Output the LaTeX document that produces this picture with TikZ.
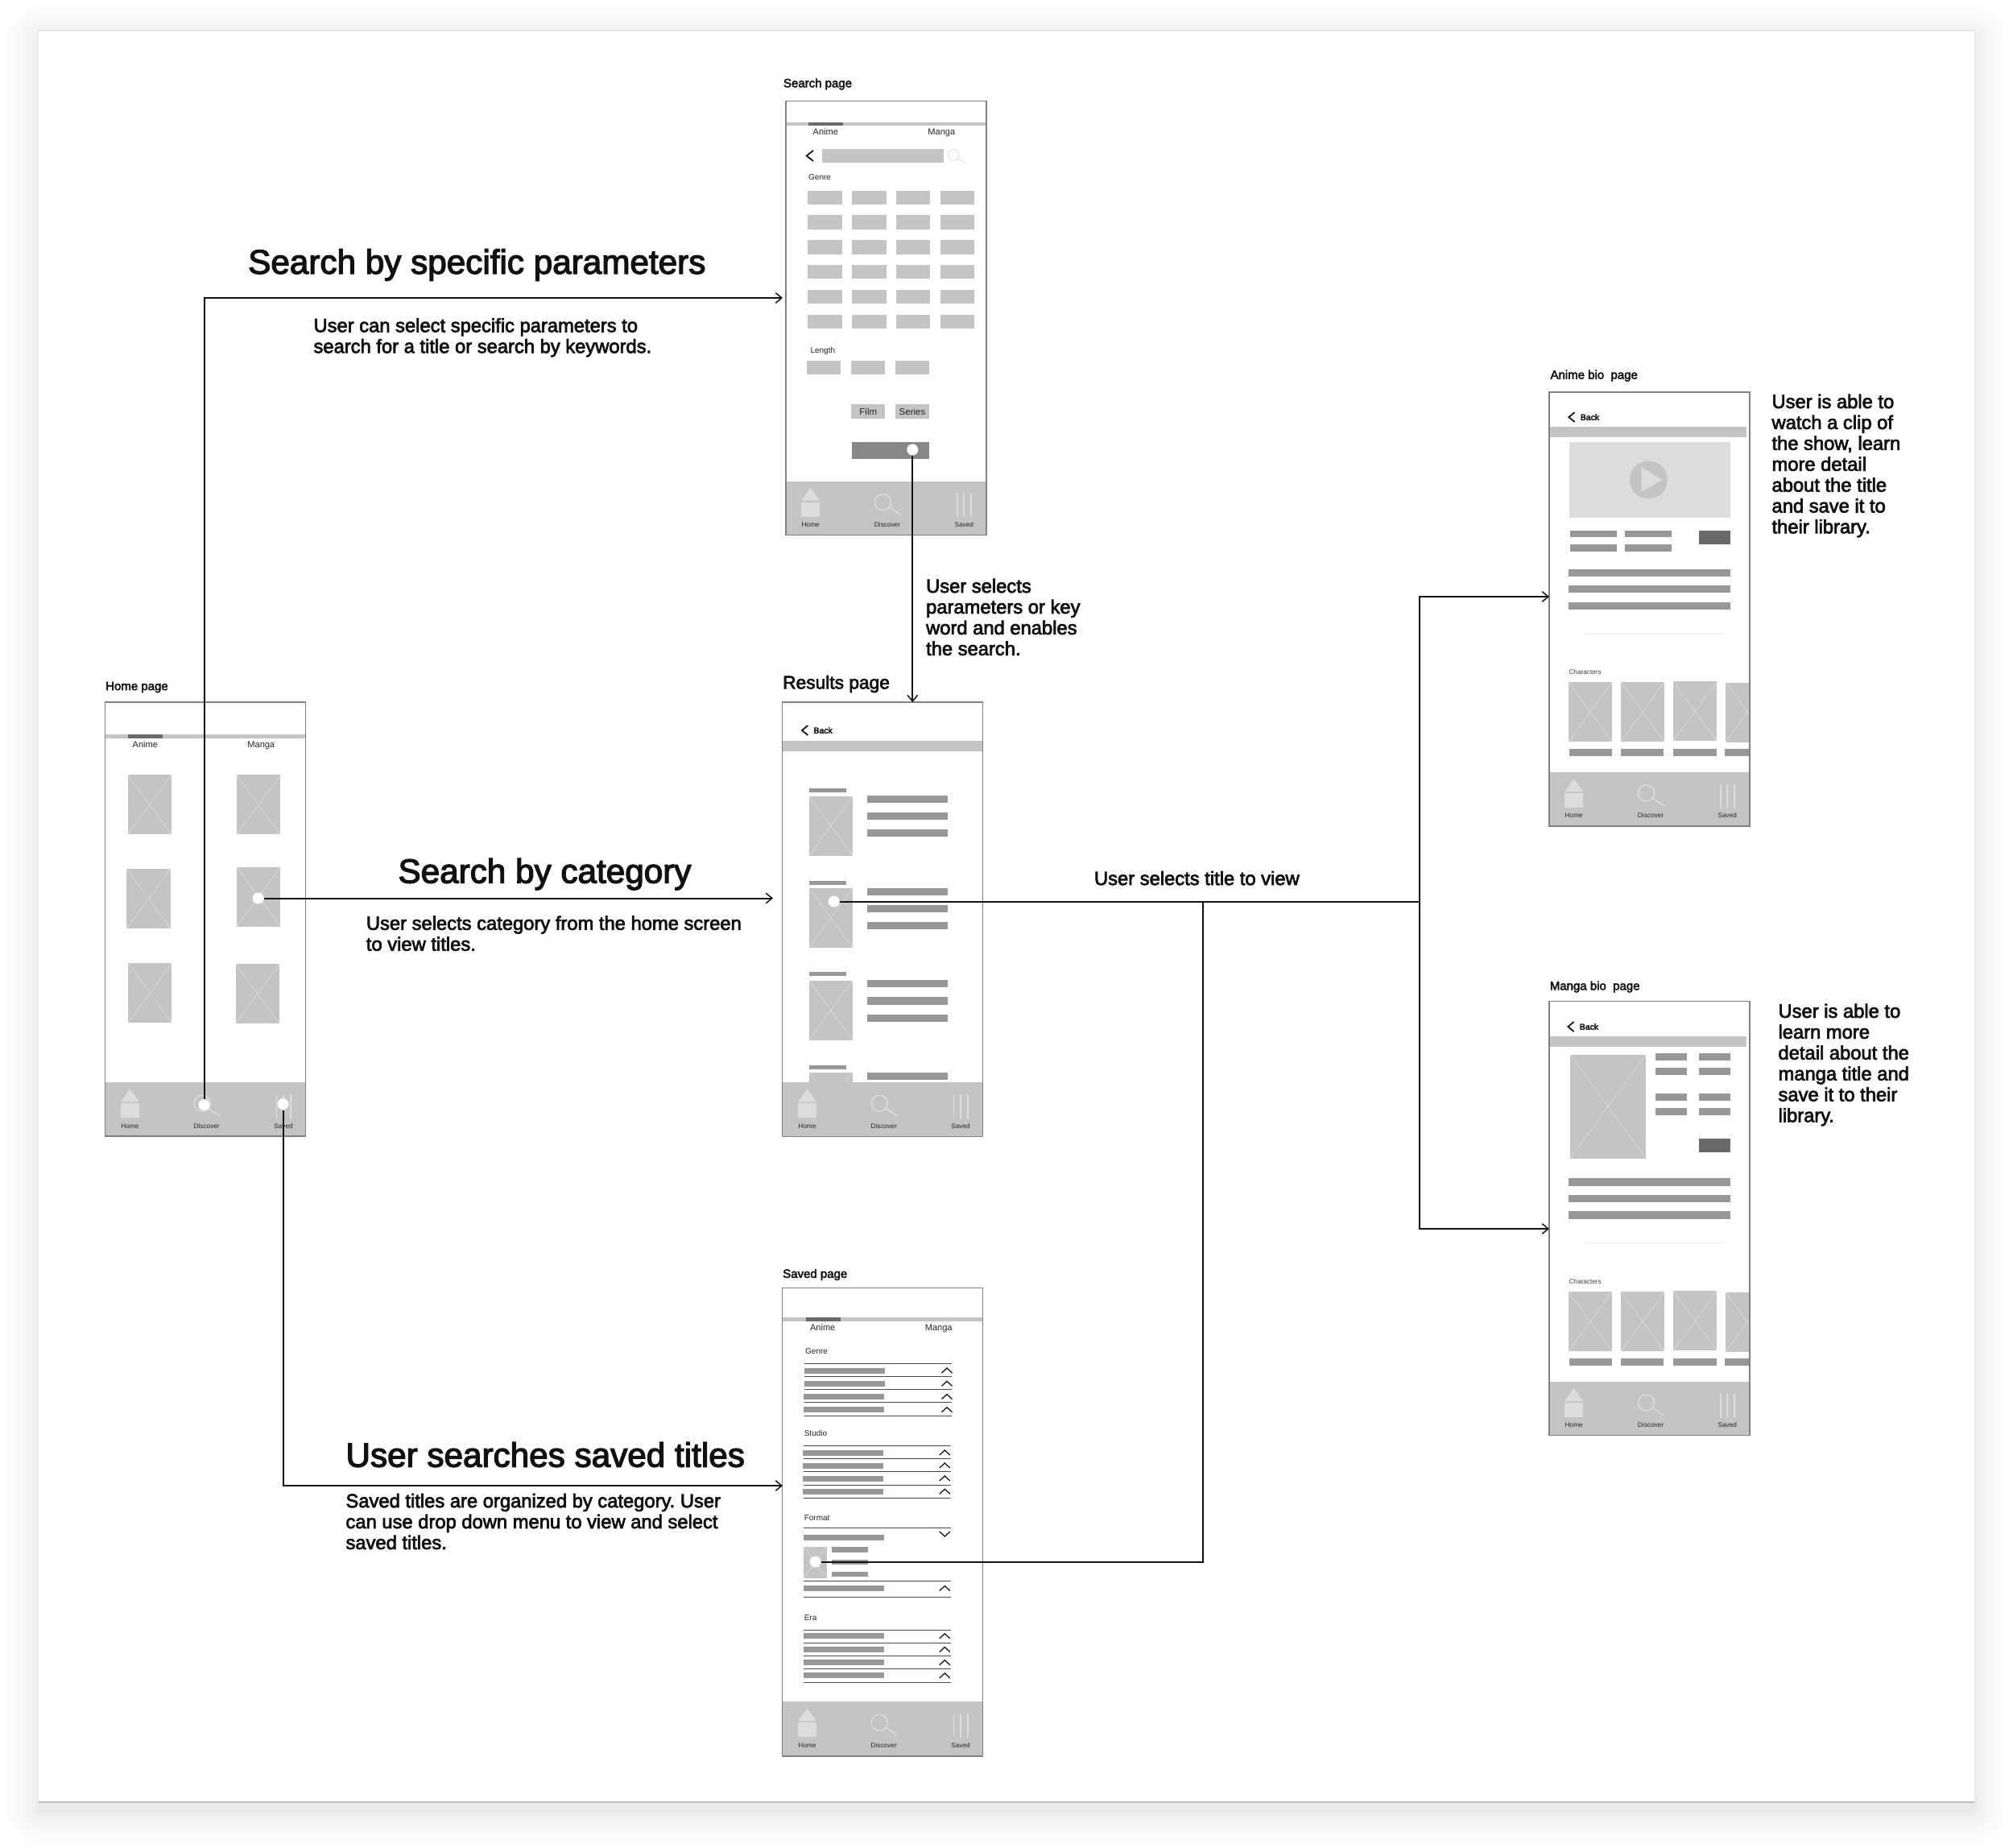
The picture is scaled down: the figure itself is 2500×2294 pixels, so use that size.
\documentclass[tikz,border=0pt]{standalone}
\usepackage{fontspec}
\setmainfont{Liberation Sans}
\newfontfamily\medf[FakeBold=3]{Liberation Sans}
\usetikzlibrary{arrows.meta}
\definecolor{phg}{HTML}{C4C4C4}
\definecolor{xln}{HTML}{DEDEDE}
\definecolor{bar}{HTML}{989898}
\definecolor{dark}{HTML}{6A6A6A}
\definecolor{frm}{HTML}{808080}
\definecolor{icn}{HTML}{DCDCDC}
\definecolor{inkc}{HTML}{111111}
\tikzset{
  pageframe/.style={fill=white,inner sep=0,outer sep=0,anchor=north west,minimum width=99.6pt},
  headt/.style={inner sep=0,anchor=west,align=left,text=inkc,font=\medf\fontsize{16.9pt}{20pt}\selectfont},
  bodyt/.style={inner sep=0,anchor=west,align=left,text=inkc,font=\medf\fontsize{9.5pt}{10.36pt}\selectfont},
  paget/.style={inner sep=0,anchor=west,text=inkc,font=\medf\fontsize{6pt}{7pt}\selectfont},
  tabt/.style={inner sep=0,yshift=-0.5pt,text=black!85,text height=3.2pt,text depth=1pt,font=\fontsize{4.4pt}{5pt}\selectfont},
  smallt/.style={inner sep=0,yshift=-0.4pt,anchor=west,text=black!85,text height=3pt,text depth=0.9pt,font=\fontsize{4pt}{5pt}\selectfont},
  navt/.style={inner sep=0,text=black!85,font=\fontsize{3.3pt}{4pt}\selectfont},
  backt/.style={inner sep=0,anchor=west,text=inkc,font=\medf\fontsize{4.2pt}{5pt}\selectfont},
  tapdot/.style={circle,fill=white,inner sep=0,minimum size=5.6pt},
  link/.style={draw=inkc,line width=0.8pt,-{Straight Barb[length=3pt,width=5pt,line width=0.6pt]}},
  linkp/.style={draw=inkc,line width=0.8pt},
  chev/.style={draw=inkc,line width=0.5pt},
}
\newcommand\ph[4]{\fill[phg] (#1,#2) rectangle (#3,#4);
  \draw[xln,line width=0.25pt] (#1,#2) -- (#3,#4) (#1,#4) -- (#3,#2);}
\newcommand\gb[5][bar]{\fill[#1] (#2,#3) rectangle (#4,#5);}
\newcommand\navb[3]{\begin{scope}[shift={(#2,#3)}]
  \fill[phg] (0,0) rectangle (249,67);
  \fill[icn] (19.3,24) -- (42,24) -- (30.7,8) -- cycle;
  \fill[icn] (19.3,26) rectangle (42,44);
  \draw[icn,line width=0.6pt] (120.5,26) circle[radius=10];
  \draw[icn,line width=0.6pt] (128,32) -- (143,42);
  \draw[icn,line width=0.7pt] (212.7,14.5) -- (212.7,44.5) (221.3,14.5) -- (221.3,44.5) (230,14.5) -- (230,44.5);
  \node[navt] (#1home) at (30.7,54) {Home};
  \node[navt] (#1disc) at (126,54) {Discover};
  \node[navt] (#1save) at (221.3,54) {Saved};
\end{scope}}
\newcommand\chevup[2]{\draw[chev] (#1-6.5,#2+3) -- (#1,#2-3) -- (#1+6.5,#2+3);}
\newcommand\chevdn[2]{\draw[chev] (#1-6.5,#2-3) -- (#1,#2+3) -- (#1+6.5,#2-3);}
\newcommand\backc[4]{\draw[draw=inkc,line width=0.7pt] (#1+7.3,#2) -- (#1,#2+6) -- (#1+7.3,#2+12);
  \node[backt] (#3) at (#1+14,#2+6) {#4};}
\newcommand\tabs[5]{% prefix, frame x, bar y, dark x, label y
  \fill[phg] (#2,#3) rectangle (#2+249,#3+4.6);
  \fill[dark] (#4,#3) rectangle (#4+43,#3+4.6);
  \node[tabt] (#1a) at (#4+21,#5) {Anime};
  \node[tabt] (#1m) at (#4+165,#5) {Manga};}
\newcommand\listrow[3]{% x-shift bar, y center, chevron x
  \fill[bar] (#1,#2-3.5) rectangle (#1+100,#2+3.5);
  \chevup{#3}{#2}}
\newcommand\ruleln[2]{\draw[black!70,line width=0.35pt] (#1,#2) -- (#1+183,#2);}
\begin{document}
\frenchspacing
\begin{tikzpicture}[x=0.4pt,y=-0.4pt]
\useasboundingbox (0,0) rectangle (2500,2294);
% backdrop + card shadow
\fill[white] (0,0) rectangle (2500,2294);
\foreach \k in {1,...,22}{
  \pgfmathsetmacro\e{\k*\k/11}
  \fill[black,opacity=0.0058,rounded corners=\e*0.4pt+1pt] (47.7-\e,38+8-\e) rectangle (2452.3+\e,2238+12+\e);
}
\fill[white] (47.7,38) rectangle (2452.3,2238);
\draw[black!10,line width=0.5pt] (47.7,2238) -- (47.7,38) -- (2452.3,38) -- (2452.3,2238);
\draw[black!25,line width=0.6pt] (47.7,2238) -- (2452.3,2238);

%% HOME
\node[paget] (thome) at (130.7,853.5) {Home page};
\node[pageframe,minimum height=215.6pt] (home) at (130.7,872) {};
\tabs{h}{130.7}{912}{159.3}{924.5}
\ph{158.7}{962.4}{212.7}{1036.2}
\ph{294}{962.4}{348.3}{1036.2}
\ph{157.3}{1079}{211.7}{1153}
\ph{294}{1076.8}{348.3}{1150.6}
\ph{159.3}{1196}{213.3}{1270}
\ph{292.7}{1197.3}{347}{1271}
\navb{hn}{130.7}{1344.3}

%% SEARCH
\node[paget] (tsearch) at (972.5,104.5) {Search page};
\node[pageframe,minimum height=215.8pt] (search) at (976,125.2) {};
\tabs{s}{976}{151.6}{1004.3}{163.8}
\draw[draw=inkc,line width=0.7pt] (1010,187) -- (1001.7,193.5) -- (1010,200);
\fill[phg] (1021,184.5) rectangle (1172,202);
\draw[black!12,line width=0.4pt] (1184.3,192.5) circle[radius=6.7] (1189.5,197) -- (1200,202.5);
\node[smallt] (tgenre) at (1003.7,220) {Genre};
\foreach \yy in {236.5,267.3,298.1,328.9,359.7,390.5}{
  \foreach \xx in {1003.3,1058.3,1113,1168}{
    \fill[phg] (\xx,\yy) rectangle (\xx+42.4,\yy+17.4);
  }
}
\node[smallt] (tlength) at (1006,434.4) {Length};
\foreach \xx in {1002.3,1057.3,1112}{\fill[phg] (\xx,447.8) rectangle (\xx+42,465);}
\node[inner sep=0,fill=phg,minimum width=16.8pt,minimum height=7pt,text=black!85,font=\fontsize{4.6pt}{5pt}\selectfont] (film) at (1078.3,511) {Film};
\node[inner sep=0,fill=phg,minimum width=16.8pt,minimum height=7pt,text=black!85,font=\fontsize{4.6pt}{5pt}\selectfont] (series) at (1133,511) {Series};
\gb[black!47]{1058.3}{548.8}{1154}{569.5}
\navb{sn}{976}{597.6}

%% RESULTS
\node[paget,font=\medf\fontsize{9.1pt}{10pt}\selectfont] (tresults) at (971.7,849.5) {Results page};
\node[pageframe,minimum height=215.8pt] (results) at (971.7,872) {};
\backc{996}{901}{rback}{Back}
\fill[phg] (971.7,920) rectangle (1220.7,932.6);
\foreach \yy/\ll/\lb in {978.9/988.8/988,1093.7/1102.5/1102.5,1207.3/1217.7/1217.3}{
  \gb{1004.7}{\yy}{1050.7}{\yy+5}
  \ph{1004.7}{\ll}{1059}{\ll+74}
  \gb{1077.3}{\lb}{1177.3}{\lb+9.1}
  \gb{1077.3}{\lb+21.1}{1177.3}{\lb+30.2}
  \gb{1077.3}{\lb+42.2}{1177.3}{\lb+51.3}
}
\gb{1004.7}{1322.5}{1050.7}{1327.5}
\ph{1004.7}{1331.7}{1059}{1405.7}
\gb{1077.3}{1331.7}{1177.3}{1340.7}
\navb{rn}{971.7}{1344.3}

%% SAVED
\node[paget] (tsaved) at (971.7,1583) {Saved page};
\node[pageframe,minimum height=232.5pt] (saved) at (971.7,1599.7) {};
\tabs{v}{971.7}{1636}{1000.7}{1648.3}
\node[smallt] (tg2) at (999.7,1677.5) {Genre};
\foreach \yy in {1693.8,1709.4,1725.4,1741.6,1758.2}{\ruleln{999}{\yy}}
\foreach \yy/\xx in {1702/999.3,1718.3/999.3,1734.5/998,1750.7/998}{\listrow{\xx}{\yy}{1176}}
\node[smallt] (tstudio) at (998.3,1780) {Studio};
\foreach \yy in {1795.8,1811.6,1827.8,1844,1860.6}{\ruleln{997.5}{\yy}}
\foreach \yy in {1804,1820,1836,1852.3}{\listrow{997}{\yy}{1173.3}}
\node[smallt] (tformat) at (998.3,1885) {Format};
\ruleln{998}{1897.8}
\gb{998}{1905.8}{1097.7}{1912.8}
\chevdn{1173.3}{1905}
\ph{998}{1920.7}{1026.7}{1959.5}
\foreach \yy in {1924.7,1940,1955}{\gb{1033}{\yy-3.4}{1078.3}{\yy+3.4}}
\ruleln{998}{1963.8}
\listrow{998}{1972.5}{1173.3}
\ruleln{998}{1983.2}
\node[smallt] (tera) at (998.3,2008.5) {Era};
\foreach \yy in {2024,2040.1,2056.4,2072.6,2089.2}{\ruleln{998}{\yy}}
\foreach \yy in {2031.8,2048.5,2064.7,2080.9}{\listrow{998}{\yy}{1173.3}}
\navb{vn}{971.7}{2113.3}

%% ANIME BIO
\node[paget] (tanime) at (1925,466.7) {Anime bio\ \ page};
\node[pageframe,minimum height=215.6pt] (anime) at (1924,487) {};
\backc{1948.3}{512}{aback}{Back}
\fill[phg] (1924,530) rectangle (2169.3,543);
\fill[icn] (1949.3,548.7) rectangle (2149.3,643.3);
\fill[phg] (2047.3,595.8) circle[radius=23.5];
\fill[icn] (2038.3,580) -- (2065,595.8) -- (2038.3,611) -- cycle;
\gb{1950.3}{658.6}{2008}{667.4}
\gb{2018.3}{658.6}{2076.3}{667.4}
\gb{1950.3}{676.2}{2008}{685}
\gb{2018.3}{676.2}{2076.3}{685}
\gb[dark]{2110.3}{658.6}{2149.3}{675.8}
\gb{1948}{706.8}{2149.3}{715.6}
\gb{1948}{727}{2149.3}{735.9}
\gb{1948}{747.7}{2149.3}{756.5}
\draw[black!9,line width=0.4pt] (1968.3,787.2) -- (2140.7,787.2);
\node[navt,anchor=west,text=black!75] (tchar1) at (1948,835) {Characters};
\begin{scope}
\clip (1924,840) rectangle (2172.7,945);
\ph{1948}{846.9}{2002}{921}
\ph{2013}{846.9}{2067}{921}
\ph{2078}{846.2}{2132.3}{920.3}
\ph{2143.3}{847.6}{2197}{921.7}
\gb{1949}{929.5}{2002}{938.7}
\gb{2013}{929.5}{2065.7}{938.7}
\gb{2078}{929.5}{2132.3}{938.7}
\gb{2142}{929.5}{2196}{938.7}
\end{scope}
\navb{an}{1924}{959}

%% MANGA BIO
\node[paget] (tmanga) at (1924.3,1225.5) {Manga bio\ \ page};
\node[pageframe,minimum height=215.6pt] (manga) at (1924,1243.7) {};
\backc{1947.3}{1269}{mback}{Back}
\fill[phg] (1924,1287) rectangle (2169.3,1300);
\ph{1949.7}{1309.5}{2044.3}{1438.5}
\foreach \yy in {1308,1325.6,1358,1375.7}{
  \gb{2055.7}{\yy}{2095}{\yy+9.2}
  \gb{2110}{\yy}{2149.3}{\yy+9.2}
}
\gb[dark]{2110}{1413.6}{2149.3}{1431.2}
\gb{1948}{1463.3}{2149.3}{1472.5}
\gb{1948}{1484}{2149.3}{1493.2}
\gb{1948}{1504.3}{2149.3}{1513.5}
\draw[black!7,line width=0.4pt] (1968.3,1543.7) -- (2140.7,1543.7);
\node[navt,anchor=west,text=black!75] (tchar2) at (1948,1592) {Characters};
\begin{scope}
\clip (1924,1598) rectangle (2172.7,1702);
\ph{1948}{1604.2}{2002}{1678}
\ph{2013}{1604.2}{2067}{1678}
\ph{2078}{1603.4}{2132.3}{1677.3}
\ph{2143.3}{1605}{2197}{1679}
\gb{1949}{1686.5}{2002}{1695.7}
\gb{2013}{1686.5}{2065.7}{1695.7}
\gb{2078}{1686.5}{2132.3}{1695.7}
\gb{2142}{1686.5}{2196}{1695.7}
\end{scope}
\navb{mn}{1924}{1716}

%% frame outlines over the content
\foreach \f in {home,search,results,saved,anime,manga}{
  \draw[frm,line width=0.5pt] (\f.north west) rectangle (\f.south east);
}

%% TEXT
\node[headt] (h1) at (307.7,329) {Search by specific parameters};
\node[bodyt] (b1) at (389,419.2) {User can select specific parameters to\\search for a title or search by keywords.};
\node[headt] (h2) at (494,1085.6) {Search by category};
\node[bodyt] (b2) at (454.4,1159.2) {User selects category from the home screen\\to view titles.};
\node[headt] (h3) at (429,1806.5) {User searches saved titles};
\node[bodyt] (b3) at (429,1889.5) {Saved titles are organized by category. User\\can use drop down menu to view and select\\saved titles.};
\node[bodyt] (b4) at (1358.5,1090.6) {User selects title to view};
\node[bodyt] (b5) at (1149.6,766.4) {User selects\\parameters or key\\word and enables\\the search.};
\node[bodyt] (b6) at (2200,578.5) {User is able to\\watch a clip of\\the show, learn\\more detail\\about the title\\and save it to\\their library.};
\node[bodyt] (b7) at (2208,1322.5) {User is able to\\learn more\\detail about the\\manga title and\\save it to their\\library.};

%% TAP DOTS
\node[tapdot] (dsearch) at (253.5,1372) {};
\node[tapdot] (dcat) at (320.7,1115.5) {};
\node[tapdot] (dsaved) at (351.5,1371) {};
\node[tapdot] (dgo) at (1133.3,558.4) {};
\node[tapdot] (dres) at (1035.7,1119.5) {};
\node[tapdot] (dfmt) at (1012.7,1939.5) {};
\coordinate (insearch) at (972,370);
\coordinate (incat) at (960,1115.5);
\coordinate (insaved) at (972,1845);
\coordinate (hub) at (1763,1119.5);
\coordinate (join) at (1493.6,1119.5);
\coordinate (inanime) at (1924,741);
\coordinate (inmanga) at (1924,1526);

%% CONNECTORS
\draw[link] (dsearch) |- (insearch);
\draw[link] (dcat) -- (incat);
\draw[link] (dsaved) |- (insaved);
\draw[link] (dgo) -- (dgo |- results.north);
\draw[linkp] (dres) -- (hub);
\draw[linkp] (dfmt) -| (join);
\draw[link] (hub) |- (inanime);
\draw[link] (hub) |- (inmanga);
\end{tikzpicture}
\end{document}
